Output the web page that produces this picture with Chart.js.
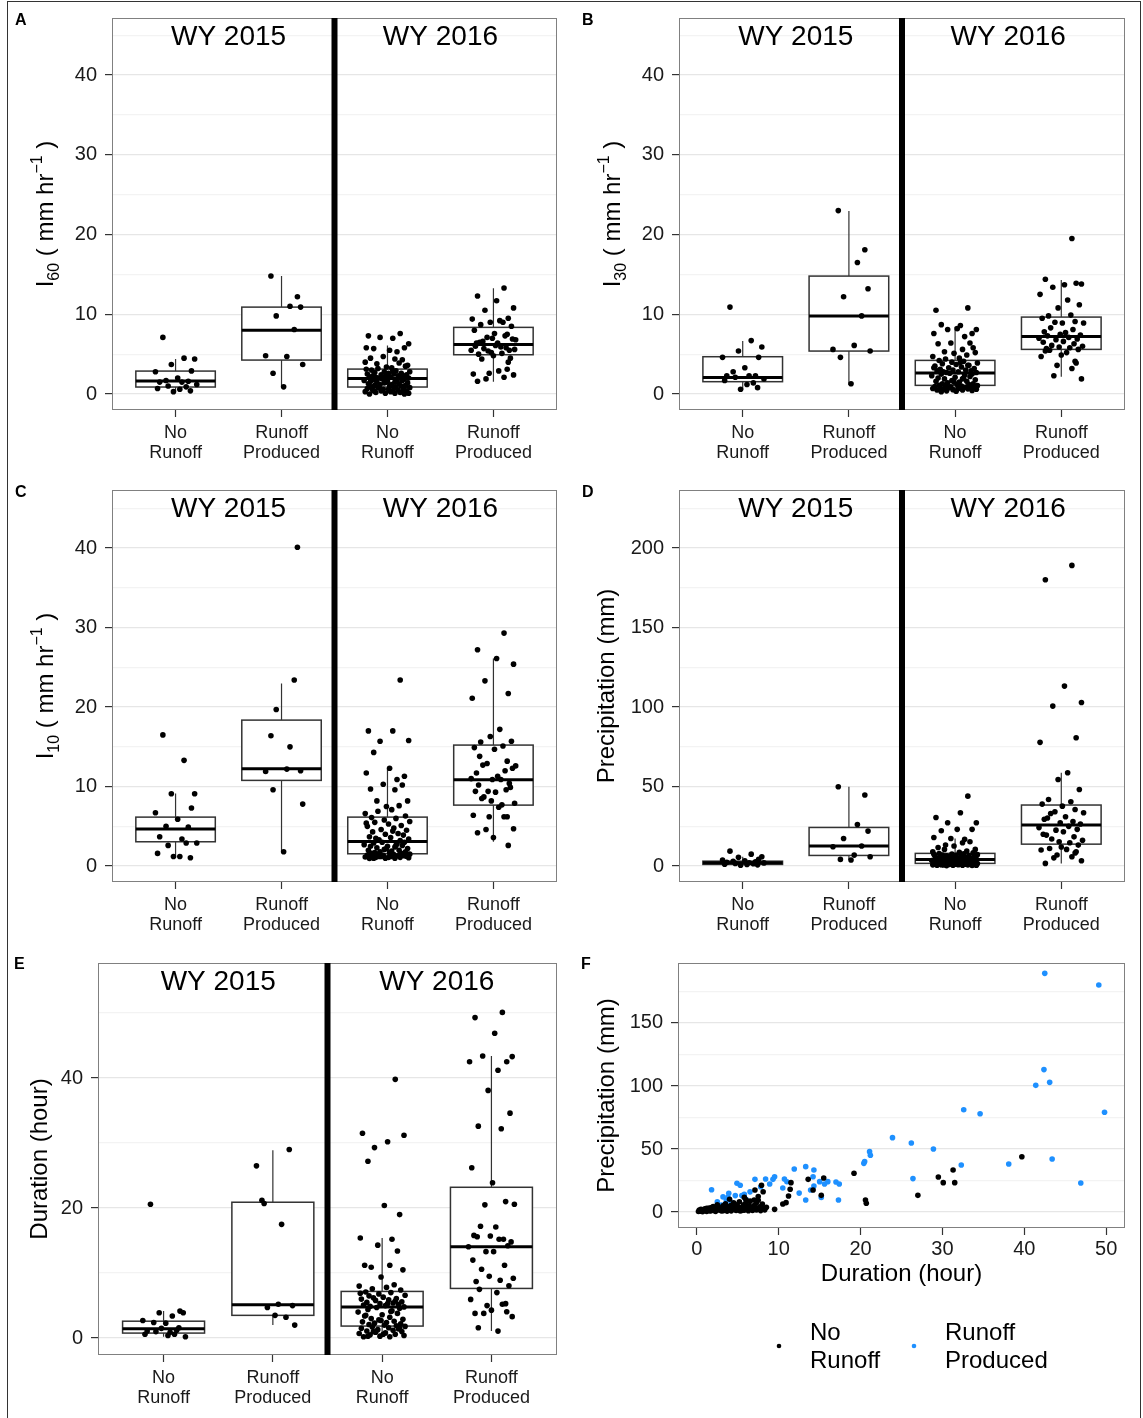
<!DOCTYPE html>
<html>
<head>
<meta charset="utf-8">
<script src="https://cdn.jsdelivr.net/npm/chart.js@4.4.0/dist/chart.umd.min.js"></script>
<style>
body { margin: 0; background: #fff; }
#fig { position: relative; width: 1143px; height: 1418px; overflow: hidden; font-family: "Liberation Sans", Arial, sans-serif; }
#frame { position: absolute; left: 7px; top: 1px; width: 1132px; height: 1430px; border: 1px solid #333; }
canvas { position: absolute; }
.tag { position: absolute; font-weight: bold; font-size: 16px; line-height: 1; }
</style>
</head>
<body>
<div id="fig">
  <div id="frame"></div>
  <canvas id="cA"></canvas><canvas id="cB"></canvas>
  <canvas id="cC"></canvas><canvas id="cD"></canvas>
  <canvas id="cE"></canvas><canvas id="cF"></canvas>
  <div class="tag" style="left:15px;top:12px">A</div>
  <div class="tag" style="left:582px;top:12px">B</div>
  <div class="tag" style="left:15px;top:484px">C</div>
  <div class="tag" style="left:582px;top:484px">D</div>
  <div class="tag" style="left:14px;top:956px">E</div>
  <div class="tag" style="left:581px;top:956px">F</div>
</div>
<script>
var FONT = '"Liberation Sans", Arial, Helvetica, sans-serif';
Chart.defaults.font.family = FONT;
Chart.defaults.color = '#1a1a1a';

// categories: 1,2 = WY 2015, 3,4 = WY 2016
var groups = [1, 2, 3, 4];
var catLabels = [['No', 'Runoff'], ['Runoff', 'Produced'], ['No', 'Runoff'], ['Runoff', 'Produced']];
var years = ['WY 2015', 'WY 2016'];

// horizontal jitter of the dots (reused by all box panels)
var jit15No = [-.12, .08, .18, -.04, .15, -.19, .02, -.09, .12, -.15, .06, .2, -.07, .1, -.17, .04, .14, -.02];
var jit15Run = [-.1, .15, .08, .18, -.05, .12, -.15, .05, .2, -.08, .02];
var jit16No = [.12, -.18, .05, -.07, .20, -.13, .02, .16, -.20, .09,
  -.04, .14, -.16, .07, -.10, .19, -.01, .11, -.21, .04,
  -.09, .17, -.15, .08, -.03, .21, -.12, .01, .13, -.19,
  .06, -.06, .18, -.14, .10, -.02, .15, -.17, .03, -.11,
  .20, -.08, .12, -.20, .05, -.05, .16, -.13, .09, -.22,
  .14, .00, -.16, .07, -.10, .19, -.03, .11, -.18, .04,
  -.07, .17, -.12, .02, .13, -.15, .08, -.01, .21, -.09,
  .06, -.19, .15, -.04, .10, -.14, .18, -.06, .03, -.21,
  .12, -.11, .20, -.02, .07, -.17, .16, -.08, .01, -.13];
var jit16Run = [.10, -.15, .03, .19, -.08, .14, -.20, .06, -.03, .17,
  -.12, .09, -.18, .01, .13, -.06, .21, -.10, .04, -.16,
  .11, -.01, .18, -.13, .07, -.21, .15, -.05, .02, -.17,
  .12, -.09, .20, -.02, .08, -.14, .16, -.11, .05, -.19,
  .13, -.04, .10, -.07, .19, -.15, .00, .14, -.12, .06];

// A: I60 (mm/hr)
var i60No15 = [7.1, 4.5, 4.4, 3.7, 2.9, 2.8, 2.0, 1.7, 1.6, 1.5, 1.5, 1.2, 1.0, 0.9, 0.7, 0.6, 0.4, 0.3];
var i60Run15 = [14.8, 12.2, 11.0, 10.9, 9.8, 8.1, 4.8, 4.7, 3.7, 2.6, 0.9];
var i60No16 = [7.6, 7.3, 7.0, 7.1, 6.3, 5.7, 5.5, 5.8, 5.8, 5.3, 4.7, 4.3, 4.5, 4.4, 3.8, 3.6, 3.4, 3.9, 4.0, 3.3, 3.2, 3.5,
  3.0, 2.9, 2.8, 2.8, 2.7, 2.6, 2.6, 2.5, 2.5, 2.4, 2.4, 2.3, 2.3, 2.2, 2.2, 2.1, 2.1, 2.1, 2.0, 2.0, 2.0, 3.1, 2.9,
  1.9, 1.9, 1.8, 1.8, 1.7, 1.7, 1.6, 1.6, 1.5, 1.5, 1.4, 1.4, 1.3, 1.3, 1.2, 1.2, 1.1, 1.1, 1.0, 1.0, 0.9, 0.9, 1.5,
  0.8, 0.8, 0.7, 0.7, 0.6, 0.6, 0.5, 0.5, 0.4, 0.4, 0.3, 0.3, 0.2, 0.2, 0.1, 0.1, 0.1, 0.0, 0.0, 0.8, 0.6, 0.4];
var i60Run16 = [13.3, 12.3, 11.7, 10.8, 10.5, 9.5, 9.4, 9.2, 9.0, 8.5, 8.7, 9.0,
  8.0, 7.6, 7.5, 7.1, 6.8, 6.6, 6.4, 6.4, 7.3, 7.0, 6.9, 6.5,
  5.9, 5.5, 5.5, 5.4, 6.1, 6.0, 5.8, 5.7, 5.6, 5.2, 5.1, 5.0,
  4.5, 4.4, 2.9, 2.5, 3.1, 2.6, 2.1, 1.9, 2.4, 1.6, 4.8, 4.0];
// box stats per group: [whisker low, Q1, median, Q3, whisker high]
var i60Box = [[0.3, 0.88, 1.63, 2.88, 4.4], [0.9, 4.26, 8.0, 10.9, 14.8], [0.0, 0.88, 1.96, 3.13, 6.1], [1.55, 4.93, 6.22, 8.36, 13.25]];

// B: I30 (mm/hr)
var i30No15 = [10.9, 6.7, 5.9, 5.4, 4.6, 4.6, 3.3, 2.8, 2.3, 2.3, 2.3, 1.9, 2.1, 1.4, 1.7, 1.2, 0.8, 0.6];
var i30Run15 = [23.0, 18.1, 16.5, 13.2, 12.2, 9.8, 5.6, 6.1, 5.4, 4.6, 1.3];
var i30No16 = [10.8, 10.5, 8.6, 8.1, 8.1, 8.7, 8.2, 7.6, 7.6, 7.2, 6.4, 6.4, 6.3, 5.6, 5.3, 5.2, 5.1, 4.9, 4.7, 4.5, 4.4, 5.8,
  4.2, 4.1, 4.0, 3.9, 3.8, 3.7, 3.6, 3.5, 3.4, 3.3, 3.2, 3.1, 3.0, 3.0, 2.9, 2.9, 2.8, 2.8, 2.7, 2.7, 3.6, 3.3, 4.0,
  2.6, 2.5, 2.5, 2.4, 2.3, 2.2, 2.1, 2.0, 1.9, 1.9, 1.8, 1.7, 1.6, 1.6, 1.5, 1.4, 1.3, 1.3, 1.2, 1.2, 1.1, 2.0, 1.5,
  1.05, 1.0, 1.0, 0.95, 0.9, 0.9, 0.85, 0.8, 0.8, 0.75, 0.7, 0.7, 0.65, 0.6, 0.6, 0.55, 0.5, 0.5, 0.45, 0.4, 0.35, 0.3];
var i30Run16 = [19.5, 14.4, 13.7, 13.8, 13.4, 13.9, 12.5, 11.8, 10.8, 11.2, 9.8, 9.9,
  9.5, 8.9, 9.1, 9.0, 8.9, 8.3, 7.7, 7.8, 8.1, 7.5, 7.4, 7.3,
  7.1, 7.0, 6.9, 6.8, 6.6, 6.5, 6.3, 6.1, 6.0, 5.9, 5.8, 5.7,
  5.6, 5.5, 5.2, 4.7, 4.1, 3.6, 3.2, 2.3, 1.9, 5.4, 4.9, 3.9];
var i30Box = [[0.6, 1.55, 2.09, 4.68, 6.64], [1.13, 5.39, 9.78, 14.79, 22.94], [0.3, 1.09, 2.63, 4.22, 8.44], [2.17, 5.6, 7.23, 9.65, 14.3]];

// C: I10 (mm/hr)
var i10No15 = [16.5, 13.3, 9.1, 9.1, 7.3, 6.7, 5.9, 5.0, 4.9, 3.7, 3.4, 2.9, 2.6, 2.9, 1.6, 1.2, 1.05, 1.2];
var i10Run15 = [16.4, 40.1, 15.0, 12.0, 19.7, 23.4, 11.9, 12.2, 7.8, 9.6, 1.8];
var i10No16 = [23.4, 17.0, 17.0, 15.7, 15.8, 14.3, 12.3, 11.3, 11.7, 10.9, 10.3, 10.2, 9.7, 9.6, 8.2, 8.2, 7.5, 7.6, 6.6, 7.1, 6.9, 6.3,
  6.1, 6.0, 5.8, 5.6, 5.5, 5.3, 5.1, 5.0, 4.8, 4.6, 4.5, 4.3, 4.1, 4.0, 3.9, 3.7, 3.6, 3.5, 3.4, 3.3, 3.2, 5.4, 4.4,
  3.0, 3.0, 2.9, 2.8, 2.7, 2.6, 2.5, 2.5, 2.4, 2.3, 2.2, 2.1, 2.0, 2.0, 1.9, 1.8, 1.8, 1.7, 1.7, 1.6, 1.6, 2.6, 2.2,
  1.5, 1.5, 1.45, 1.4, 1.4, 1.35, 1.3, 1.3, 1.25, 1.2, 1.2, 1.15, 1.1, 1.1, 1.05, 1.0, 1.0, 0.95, 1.3, 1.2, 1.1, 1.0];
var i10Run16 = [29.3, 27.2, 26.1, 25.4, 23.3, 21.7, 21.1, 17.2, 16.3, 15.7, 15.6, 15.1,
  14.9, 14.7, 13.2, 12.9, 12.6, 12.7, 11.3, 11.7, 12.0, 10.9, 12.3, 13.8,
  10.9, 11.0, 10.4, 9.4, 9.3, 9.4, 9.6, 8.7, 7.9, 8.2, 7.7, 10.2,
  9.9, 8.5, 7.4, 6.4, 6.2, 6.2, 6.2, 4.6, 4.7, 4.2, 3.6, 2.6];
var i10Box = [[1.05, 3.06, 4.65, 6.16, 9.14], [1.8, 10.78, 12.24, 18.36, 22.98], [0.95, 1.55, 3.1, 6.16, 12.24], [3.06, 7.67, 10.86, 15.22, 26.1]];

// D: precipitation (mm)
var pNo15 = [9.4, 7.5, 5.9, 5.5, 4.2, 3.8, 3.4, 3.0, 2.7, 2.4, 2.1, 2.0, 1.7, 1.5, 1.2, 1.0, 0.8, 0.5];
var pRun15 = [49.9, 44.7, 26.2, 22.0, 17.4, 12.6, 12.2, 6.9, 5.9, 4.2, 3.8];
var pNo16 = [44.0, 30.6, 33.5, 27.3, 27.3, 22.2, 23.1, 23.1, 18.0, 16.9, 17.4, 15.3, 11.7, 14.7, 10.5, 10.5, 12.6, 9.5, 9.0, 8.6, 13.2, 8.3,
  7.9, 7.7, 7.5, 7.2, 7.0, 6.8, 6.6, 6.3, 6.1, 5.9, 5.7, 5.5, 5.3, 5.1, 4.9, 4.7, 4.6, 4.4, 4.3, 6.5, 5.6, 7.4, 4.8,
  4.1, 4.0, 3.8, 3.6, 3.5, 3.3, 3.1, 3.0, 2.8, 2.7, 2.5, 2.4, 2.3, 2.2, 2.1, 2.0, 1.9, 1.8, 1.8, 3.2, 2.6, 3.9, 2.2,
  1.6, 1.5, 1.5, 1.4, 1.3, 1.3, 1.2, 1.1, 1.0, 1.0, 0.9, 0.8, 0.8, 0.7, 0.6, 0.6, 0.5, 0.5, 0.4, 0.3, 1.2, 0.9];
var pRun16 = [189.1, 180.1, 113.2, 102.9, 100.6, 80.7, 77.8, 58.7, 54.5, 48.2, 41.9, 40.5,
  39.0, 37.7, 35.6, 34.2, 33.5, 33.1, 31.0, 29.5, 28.0, 27.2, 26.5, 30.2,
  25.0, 24.2, 23.1, 22.6, 21.6, 20.0, 18.4, 17.0, 16.2, 15.3, 14.7, 19.5,
  13.2, 11.1, 10.5, 10.1, 8.2, 7.0, 5.9, 5.2, 3.4, 1.7, 12.0, 9.0];
var pBox = [[0.5, 1.05, 2.1, 3.1, 5.9], [3.8, 6.7, 12.6, 24.3, 49.9], [0.3, 1.7, 4.2, 8.0, 17.4], [1.7, 13.8, 25.8, 38.4, 58.7]];

// E: duration (hour)
var dNo15 = [20.6, 3.4, 3.9, 3.9, 4.15, 2.7, 2.3, 2.4, 1.2, 1.1, 0.9, 0.2, 1.0, 0.6, 0.6, 0.4, 1.6, 1.5];
var dRun15 = [21.2, 29.0, 17.5, 5.0, 4.7, 3.2, 26.5, 5.2, 2.0, 20.7, 3.5];
var dNo16 = [39.8, 31.5, 30.2, 29.3, 31.2, 27.2, 20.4, 19.0, 15.4, 15.2, 14.3, 13.4, 11.2, 11.2, 10.9, 10.5, 9.4, 8.2, 8.0, 7.8, 7.6, 7.4,
  7.1, 7.0, 6.8, 6.6, 6.5, 6.3, 6.1, 6.0, 5.9, 5.8, 5.6, 5.5, 5.4, 5.3, 5.2, 5.1, 5.0, 4.9, 4.8, 6.2, 5.7, 6.9, 5.3,
  4.7, 4.6, 4.4, 4.2, 4.0, 3.8, 3.6, 3.4, 3.2, 3.0, 2.9, 2.8, 2.6, 2.5, 2.4, 2.3, 2.2, 2.1, 2.0, 1.9, 3.5, 4.1, 2.7,
  1.8, 1.7, 1.6, 1.5, 1.4, 1.3, 1.2, 1.1, 1.0, 0.9, 0.8, 0.7, 0.6, 0.5, 0.4, 0.3, 0.2, 0.2, 1.5, 1.0, 0.6, 0.3];
var dRun16 = [50.1, 49.3, 46.9, 43.3, 43.4, 42.5, 42.5, 41.2, 38.1, 34.6, 32.6, 32.2, 26.2, 23.9,
  21.0, 20.5, 20.6, 17.2, 17.1, 15.8, 15.2, 15.7, 14.8, 15.6, 15.2, 14.05, 14.2, 13.3, 13.3, 12.0, 11.2,
  10.6, 9.2, 9.5, 8.9, 8.7, 8.05, 7.5, 7.0, 5.95, 5.3, 5.0, 5.2, 3.8, 3.3, 3.8, 4.3, 4.05, 1.6, 1.08];
var dBox = [[0.2, 0.77, 1.44, 2.6, 4.15], [2.0, 3.5, 5.13, 20.9, 28.9], [0.2, 1.85, 4.77, 7.18, 15.4], [1.08, 7.64, 14.05, 23.2, 43.4]];

// F: duration vs precipitation, per runoff class
var durNo = [39.7, 19.2, 20.6, 20.7, 27.0, 29.5, 30.1, 31.3, 31.5, 13.6, 15.5, 14.2, 15.2, 11.5, 11.4, 11.2, 10.9, 10.5, 9.5, 7.9, 7.1, 8.1, 4.0, 7.5, 7.0, 5.8,
  0.2, 0.4, 0.5, 0.8, 0.8, 1.0, 1.2, 1.3, 1.5, 1.7, 1.8, 2.0, 2.2, 2.3, 2.3, 2.5, 2.7, 2.8, 3.0, 3.0,
  3.2, 3.3, 3.5, 3.5, 3.7, 3.8, 4.0, 4.2, 4.2, 4.3, 4.5, 4.7, 4.8, 5.0, 5.0, 5.2, 5.3, 5.5, 5.7, 5.8,
  5.8, 6.0, 6.2, 6.3, 6.5, 6.5, 6.7, 6.8, 7.0, 7.2, 7.3, 7.3, 7.5, 7.7, 7.8, 8.0, 8.2, 8.3, 8.5, 0.3,
  0.7, 1.2, 1.5, 2.0, 2.5, 3.2, 3.7, 4.0, 4.7, 5.5, 6.2, 7.0, 0.5, 1.0, 1.8, 2.8, 3.5, 4.5, 5.2, 6.0, 6.8, 7.5];
var precNo = [43.9, 30.7, 9.5, 6.9, 13.2, 27.8, 23.3, 33.3, 23.3, 25.9, 27.0, 17.5, 13.2, 23.3, 18.0, 12.7, 7.4, 6.3, 2.1, 21.2, 17.5, 16.1, 10.1, 12.2, 9.5, 11.6,
  0.4, 1.1, 0.6, 1.9, 0.9, 2.6, 0.5, 1.4, 3.2, 0.8, 2.1, 4.3, 1.0, 2.7, 0.5, 5.8, 1.6, 3.4, 0.9, 2.2,
  4.9, 1.3, 6.6, 2.8, 0.7, 3.9, 1.8, 5.4, 0.9, 2.5, 7.2, 3.3, 1.2, 4.6, 2.0, 8.1, 0.8, 3.0, 5.7, 1.5,
  3.9, 6.9, 2.3, 1.0, 4.4, 8.6, 2.7, 1.3, 5.1, 3.5, 1.6, 7.6, 2.4, 4.2, 1.1, 6.3, 2.9, 1.7, 3.8, 1.5,
  0.3, 2.9, 1.0, 1.7, 3.9, 1.1, 4.6, 3.1, 6.0, 1.2, 5.0, 2.0, 2.2, 1.2, 3.6, 1.9, 5.3, 2.1, 3.6, 9.6, 3.2, 9.3];
var durRun = [42.5, 49.1, 42.4, 41.4, 43.1, 32.6, 34.6, 49.8, 23.9, 26.2, 28.9, 21.1, 21.2, 20.5, 20.4, 32.3, 38.1, 43.4, 26.4, 46.9,
  11.9, 13.3, 14.3, 14.2, 10.7, 9.5, 9.3, 8.4, 8.9, 7.1, 15.0, 16.0, 15.6, 17.0, 17.4, 14.3, 13.9, 13.3, 15.2, 17.3,
  4.9, 5.3, 1.8, 3.9, 3.8, 4.7, 5.5, 3.6, 4.2, 3.0, 5.8, 6.5, 2.5, 7.8, 10.5, 12.5, 6.0, 3.2, 11.0];
var precRun = [189.4, 180.2, 113.0, 100.5, 102.9, 81.2, 78.0, 79.1, 59.0, 54.8, 50.0, 47.9, 45.0, 40.0, 38.6, 37.3, 38.1, 42.1, 26.5, 23.0,
  34.1, 36.0, 33.3, 28.0, 26.2, 28.0, 25.9, 26.2, 22.2, 25.9, 24.1, 24.1, 22.2, 23.8, 22.2, 20.6, 17.5, 9.5, 11.6, 9.5,
  22.8, 21.2, 17.7, 14.8, 11.6, 13.0, 13.0, 9.5, 7.4, 5.6, 14.0, 16.0, 8.0, 20.0, 19.0, 15.0, 10.0, 12.0, 24.0];

// axis tick positions (major = labelled, others are minor grid lines)
var ticksI = [0, 5, 10, 15, 20, 25, 30, 35, 40, 45];
var ticksP = [0, 25, 50, 75, 100, 125, 150, 175, 200, 225];
var ticksD = [0, 10, 20, 30, 40, 50];
var ticksFy = [0, 25, 50, 75, 100, 125, 150, 175];
var ticksFx = [0, 10, 20, 30, 40, 50];

var TOP = 21;
var DOT = 2.8;

function pts(vals, c, jit) {
  return vals.map(function(v, i) { return {x: c + jit[i % jit.length], y: v}; });
}

var boxPlugin = {
  id: 'boxes',
  beforeDatasetsDraw: function(chart, args, opts) {
    if (!opts.stats) return;
    var ctx = chart.ctx, xs = chart.scales.x, ys = chart.scales.y;
    ctx.save();
    opts.stats.forEach(function(s, i) {
      var c = groups[i];
      var x0 = xs.getPixelForValue(c - 0.375), x1 = xs.getPixelForValue(c + 0.375), xc = xs.getPixelForValue(c);
      var lo = ys.getPixelForValue(s[0]), q1 = ys.getPixelForValue(s[1]), md = ys.getPixelForValue(s[2]);
      var q3 = ys.getPixelForValue(s[3]), hi = ys.getPixelForValue(s[4]);
      ctx.strokeStyle = '#333';
      ctx.lineWidth = 1.2;
      ctx.beginPath();
      ctx.moveTo(xc, hi); ctx.lineTo(xc, q3);
      ctx.moveTo(xc, q1); ctx.lineTo(xc, lo);
      ctx.stroke();
      ctx.fillStyle = '#fff';
      ctx.fillRect(x0, q3, x1 - x0, q1 - q3);
      ctx.lineWidth = 1.5;
      ctx.strokeRect(x0, q3, x1 - x0, q1 - q3);
      ctx.strokeStyle = '#000';
      ctx.lineWidth = 3;
      ctx.beginPath(); ctx.moveTo(x0, md); ctx.lineTo(x1, md); ctx.stroke();
    });
    ctx.restore();
  }
};

var framePlugin = {
  id: 'frame',
  afterDatasetsDraw: function(chart, args, opts) {
    var ctx = chart.ctx, a = chart.chartArea;
    ctx.save();
    ctx.strokeStyle = '#808080';
    ctx.lineWidth = 1;
    ctx.strokeRect(Math.round(a.left) + 0.5, Math.round(a.top) + 0.5, Math.round(a.width) - 1, Math.round(a.height) - 1);
    if (opts.strips) {
      var xs = chart.scales.x, xd = xs.getPixelForValue(2.5);
      ctx.fillStyle = '#000';
      ctx.fillRect(xd - 3, a.top, 6, a.height);
      ctx.font = '28px ' + FONT;
      ctx.textAlign = 'center';
      ctx.textBaseline = 'middle';
      ctx.fillText(years[0], xs.getPixelForValue(1.5), a.top + 19);
      ctx.fillText(years[1], xs.getPixelForValue(3.5), a.top + 19);
    }
    ctx.restore();
  },
  afterDraw: function(chart, args, opts) {
    if (!opts.rich) return;
    var ctx = chart.ctx, a = chart.chartArea;
    var sizes = [24, 16, 16], shift = [0, 6, -11];
    ctx.save();
    ctx.translate(opts.richX, (a.top + a.bottom) / 2);
    ctx.rotate(-Math.PI / 2);
    ctx.fillStyle = '#000';
    ctx.textBaseline = 'alphabetic';
    ctx.textAlign = 'left';
    var widths = opts.rich.map(function(s) { ctx.font = sizes[s[1]] + 'px ' + FONT; return ctx.measureText(s[0]).width; });
    var x = -widths.reduce(function(p, w) { return p + w; }, 0) / 2;
    opts.rich.forEach(function(s, i) {
      ctx.font = sizes[s[1]] + 'px ' + FONT;
      ctx.fillText(s[0], x, shift[s[1]]);
      x += widths[i];
    });
    ctx.restore();
  }
};

var keyPlugin = {
  id: 'key',
  afterDraw: function(chart, args, opts) {
    var ctx = chart.ctx, a = chart.chartArea;
    ctx.save();
    ctx.font = '24px ' + FONT;
    ctx.textBaseline = 'middle';
    ctx.textAlign = 'left';
    chart.data.datasets.forEach(function(ds, i) {
      var x = a.left + opts.x[i];
      ctx.fillStyle = ds.pointBackgroundColor;
      ctx.beginPath(); ctx.arc(x, a.bottom + 118, 2.3, 0, Math.PI * 2); ctx.fill();
      ctx.fillStyle = '#000';
      ds.label.forEach(function(line, j) { ctx.fillText(line, x + 31, a.bottom + 105 + j * 28); });
    });
    ctx.restore();
  }
};

function place(id, left, top, w, h) {
  var c = document.getElementById(id);
  c.width = w; c.height = h;
  c.style.left = left + 'px'; c.style.top = top + 'px';
  return c;
}

function yScale(min, max, vals, every, L, title) {
  return {
    type: 'linear', min: min, max: max,
    afterBuildTicks: function(ax) { ax.ticks = vals.map(function(v) { return {value: v}; }); },
    afterFit: function(ax) { ax.width = L; },
    ticks: {
      callback: function(v) { return v % every === 0 ? v : ''; },
      font: {size: 20}, color: '#1a1a1a', padding: 8
    },
    grid: {
      color: function(c) { return c.tick && c.tick.value % every === 0 ? '#e6e6e6' : '#f3f3f3'; },
      tickColor: function(c) { return c.tick && c.tick.value % every === 0 ? '#333' : 'rgba(0,0,0,0)'; },
      tickLength: 7, lineWidth: 1.2
    },
    border: {display: false},
    title: title ? {display: true, text: title, color: '#000', font: {size: 24, lineHeight: 1.2}, padding: {top: 15.6, bottom: 0}} : {display: false}
  };
}

function xCatScale() {
  return {
    type: 'linear', min: 0.4, max: 4.6,
    afterBuildTicks: function(ax) { ax.ticks = groups.map(function(v) { return {value: v}; }); },
    afterFit: function(ax) { ax.height = 60; },
    ticks: {
      callback: function(v) { return catLabels[v - 1]; },
      font: {size: 18, lineHeight: 1.1}, color: '#1a1a1a', padding: 6, maxRotation: 0, autoSkip: false
    },
    grid: {drawOnChartArea: false, tickLength: 7, tickColor: '#333', tickWidth: 1.2},
    border: {display: false}
  };
}

function boxPanel(id, left, plotTop, L, w, h, yMin, yMax, tickVals, every, stats, series, rich, title) {
  var canvas = place(id, left, plotTop - TOP, L + w + 6, TOP + h + 60);
  var jits = [jit15No, jit15Run, jit16No, jit16Run];
  new Chart(canvas, {
    type: 'scatter',
    data: {
      datasets: series.map(function(vals, i) {
        return {data: pts(vals, groups[i], jits[i]), pointRadius: DOT, pointHoverRadius: DOT,
          pointBackgroundColor: '#000', pointBorderColor: '#000', pointBorderWidth: 0};
      })
    },
    options: {
      responsive: false, animation: false, events: [],
      layout: {padding: {left: 0, top: TOP, right: 6, bottom: 0}},
      plugins: {legend: {display: false}, tooltip: {enabled: false},
        boxes: {stats: stats}, frame: {strips: true, rich: rich, richX: 43}},
      scales: {x: xCatScale(), y: yScale(yMin, yMax, tickVals, every, L, title)}
    },
    plugins: [boxPlugin, framePlugin]
  });
}

function iTitle(sub) {
  return [['I', 0], [sub, 1], [' ( mm hr', 0], ['\u22121', 2], [' )', 0]];
}

boxPanel('cA', 10, 18, 102, 445, 392, -2.0, 47.15, ticksI, 10, i60Box, [i60No15, i60Run15, i60No16, i60Run16], iTitle('60'), null);
boxPanel('cB', 577, 18, 102, 446, 392, -2.0, 47.15, ticksI, 10, i30Box, [i30No15, i30Run15, i30No16, i30Run16], iTitle('30'), null);
boxPanel('cC', 10, 490, 102, 445, 392, -2.0, 47.3, ticksI, 10, i10Box, [i10No15, i10Run15, i10No16, i10Run16], iTitle('10'), null);
boxPanel('cD', 577, 490, 102, 446, 392, -10, 236.5, ticksP, 50, pBox, [pNo15, pRun15, pNo16, pRun16], null, 'Precipitation (mm)');
boxPanel('cE', 10, 963, 88, 459, 392, -2.6, 57.7, ticksD, 20, dBox, [dNo15, dRun15, dNo16, dRun16], null, 'Duration (hour)');

var fCanvas = place('cF', 577, 963 - TOP, 554, TOP + 265 + 62 + 110);
new Chart(fCanvas, {
  type: 'scatter',
  data: {
    datasets: [
      {label: ['No', 'Runoff'], data: durNo.map(function(d, i) { return {x: d, y: precNo[i]}; }),
        pointRadius: DOT, pointHoverRadius: DOT, pointBackgroundColor: '#000', pointBorderColor: '#000', pointBorderWidth: 0},
      {label: ['Runoff', 'Produced'], data: durRun.map(function(d, i) { return {x: d, y: precRun[i]}; }),
        pointRadius: DOT, pointHoverRadius: DOT, pointBackgroundColor: '#1e90ff', pointBorderColor: '#1e90ff', pointBorderWidth: 0}
    ]
  },
  options: {
    responsive: false, animation: false, events: [],
    layout: {padding: {left: 0, top: TOP, right: 6, bottom: 110}},
    plugins: {legend: {display: false}, tooltip: {enabled: false},
      frame: {strips: false}, key: {x: [101, 236]}},
    scales: {
      x: {
        type: 'linear', min: -2.3, max: 52.3,
        afterBuildTicks: function(ax) { ax.ticks = ticksFx.map(function(v) { return {value: v}; }); },
        afterFit: function(ax) { ax.height = 62; },
        ticks: {font: {size: 20}, color: '#1a1a1a', padding: 2},
        grid: {drawOnChartArea: false, tickLength: 7, tickColor: '#333', tickWidth: 1.2},
        border: {display: false},
        title: {display: true, text: 'Duration (hour)', color: '#000', font: {size: 24, lineHeight: 1.2}, padding: {top: 0, bottom: 1.6}}
      },
      y: yScale(-12.7, 197.6, ticksFy, 50, 101, 'Precipitation (mm)')
    }
  },
  plugins: [framePlugin, keyPlugin]
});
</script>
</body>
</html>
